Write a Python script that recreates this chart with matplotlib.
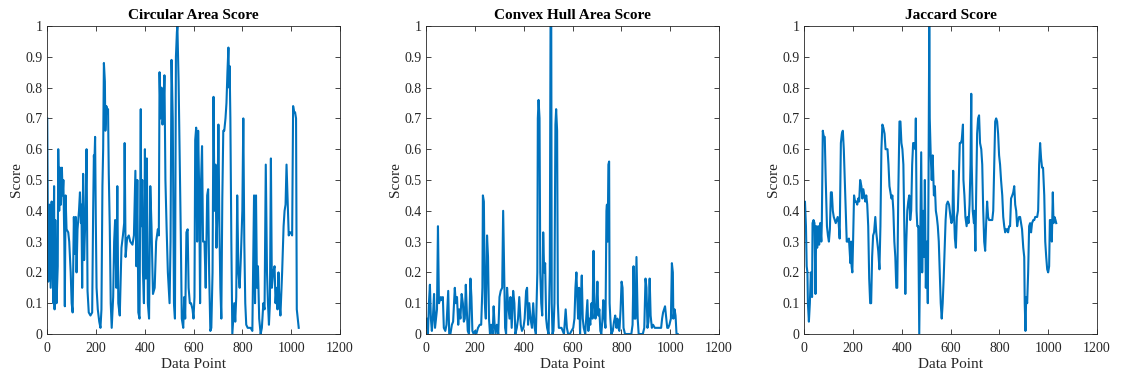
import matplotlib
matplotlib.use("Agg")
import matplotlib.pyplot as plt

# Circular area score
circ_x = [1, 5, 10, 15, 19, 23, 26, 29, 31, 34, 39, 44, 46, 50, 53, 57, 61, 64, 67, 71, 73, 76, 80, 87, 91,
          97, 101, 105, 110, 114, 118, 121, 125, 131, 135, 139, 141, 144, 148, 152, 158, 162, 166, 171, 178,
          185, 189, 192, 194, 197, 200, 203, 208, 214, 219, 223, 227, 230, 233, 237, 239, 243, 248, 250, 253,
          257, 261, 265, 271, 275, 279, 284, 288, 292, 298, 305, 311, 316, 318, 322, 328, 335, 341, 350, 356,
          362, 366, 370, 374, 379, 384, 386, 390, 393, 397, 401, 405, 409, 413, 418, 423, 428, 434, 441, 447,
          454, 458, 461, 465, 469, 473, 477, 481, 485, 490, 495, 502, 506, 510, 515, 520, 524, 528, 532, 534,
          539, 548, 552, 558, 562, 566, 571, 576, 580, 585, 590, 596, 600, 604, 607, 611, 615, 619, 623, 627,
          631, 635, 639, 645, 650, 656, 660, 664, 669, 673, 678, 682, 686, 690, 694, 698, 702, 706, 710, 714,
          718, 722, 726, 731, 735, 739, 743, 746, 748, 751, 755, 759, 763, 767, 771, 775, 779, 784, 789, 794,
          800, 804, 808, 812, 816, 822, 827, 834, 841, 848, 852, 856, 860, 864, 869, 875, 880, 886, 891, 896,
          901, 905, 909, 913, 917, 921, 926, 932, 936, 940, 944, 948, 952, 956, 963, 969, 973, 977, 981, 985,
          990, 994, 998, 1004, 1008, 1012, 1016, 1020, 1023, 1027, 1031]
circ_y = [0.70, 0.17, 0.42, 0.15, 0.43, 0.22, 0.10, 0.48, 0.08, 0.37, 0.10, 0.22, 0.60, 0.40, 0.54, 0.42,
          0.54, 0.45, 0.50, 0.30, 0.09, 0.45, 0.34, 0.33, 0.30, 0.20, 0.10, 0.07, 0.38, 0.26, 0.38, 0.20,
          0.34, 0.40, 0.46, 0.36, 0.42, 0.15, 0.52, 0.24, 0.40, 0.60, 0.14, 0.07, 0.06, 0.07, 0.40, 0.58,
          0.55, 0.64, 0.36, 0.15, 0.08, 0.04, 0.02, 0.08, 0.48, 0.60, 0.88, 0.82, 0.66, 0.74, 0.72, 0.73,
          0.52, 0.35, 0.10, 0.02, 0.12, 0.30, 0.37, 0.15, 0.48, 0.10, 0.06, 0.28, 0.32, 0.36, 0.62, 0.25,
          0.31, 0.32, 0.30, 0.29, 0.32, 0.53, 0.22, 0.50, 0.07, 0.05, 0.73, 0.35, 0.50, 0.20, 0.10, 0.60,
          0.18, 0.57, 0.10, 0.05, 0.48, 0.35, 0.13, 0.15, 0.30, 0.34, 0.32, 0.85, 0.70, 0.80, 0.68, 0.72,
          0.84, 0.50, 0.34, 0.20, 0.10, 0.30, 0.89, 0.70, 0.10, 0.05, 0.90, 0.98, 1.00, 0.82, 0.32, 0.05,
          0.02, 0.12, 0.05, 0.33, 0.34, 0.15, 0.10, 0.10, 0.08, 0.05, 0.12, 0.63, 0.67, 0.30, 0.66, 0.48,
          0.10, 0.50, 0.61, 0.30, 0.30, 0.15, 0.45, 0.47, 0.20, 0.01, 0.02, 0.20, 0.77, 0.40, 0.55, 0.28,
          0.40, 0.68, 0.35, 0.15, 0.05, 0.44, 0.66, 0.66, 0.70, 0.75, 0.85, 0.93, 0.80, 0.87, 0.70, 0.30,
          0.00, 0.05, 0.10, 0.04, 0.12, 0.45, 0.20, 0.15, 0.25, 0.40, 0.70, 0.30, 0.10, 0.03, 0.02, 0.02,
          0.02, 0.01, 0.45, 0.10, 0.45, 0.15, 0.22, 0.05, 0.00, 0.02, 0.10, 0.08, 0.55, 0.20, 0.10, 0.03,
          0.10, 0.57, 0.15, 0.20, 0.22, 0.10, 0.15, 0.08, 0.20, 0.10, 0.06, 0.20, 0.35, 0.40, 0.42, 0.55,
          0.45, 0.32, 0.33, 0.33, 0.32, 0.74, 0.72, 0.72, 0.70, 0.08, 0.05, 0.02]

# Convex hull area score
hull_x = [0, 4, 8, 12, 16, 20, 24, 28, 33, 37, 41, 45, 49, 53, 57, 61, 65, 69, 73, 79, 84, 91, 95, 100, 106,
          111, 118, 122, 127, 132, 136, 141, 146, 151, 155, 159, 163, 167, 171, 176, 182, 186, 190, 195, 201,
          206, 213, 220, 226, 231, 233, 237, 241, 245, 250, 254, 258, 262, 267, 273, 277, 281, 285, 290, 296,
          301, 306, 312, 316, 320, 324, 328, 332, 336, 342, 346, 351, 357, 362, 366, 372, 377, 382, 388, 393,
          399, 404, 410, 414, 418, 423, 428, 434, 439, 445, 450, 456, 458, 461, 465, 468, 472, 476, 480, 484,
          488, 492, 496, 502, 507, 510, 513, 515, 518, 522, 526, 530, 533, 537, 540, 544, 549, 555, 560, 565,
          572, 577, 582, 589, 596, 603, 608, 612, 616, 619, 623, 627, 631, 635, 638, 642, 646, 652, 657, 661,
          665, 669, 673, 678, 682, 686, 690, 694, 698, 702, 706, 710, 714, 718, 722, 726, 731, 735, 739, 741,
          744, 747, 750, 752, 755, 759, 765, 770, 775, 780, 784, 788, 792, 797, 801, 805, 809, 815, 820, 827,
          834, 841, 846, 850, 854, 858, 862, 867, 871, 875, 882, 888, 894, 899, 903, 907, 911, 916, 920, 925,
          930, 937, 945, 954, 959, 963, 967, 971, 975, 979, 984, 988, 992, 997, 1003, 1007, 1011, 1013, 1018,
          1022, 1026, 1031]
hull_y = [0.02, 0.05, 0.00, 0.10, 0.16, 0.05, 0.01, 0.05, 0.13, 0.02, 0.05, 0.08, 0.35, 0.10, 0.11, 0.12,
          0.11, 0.12, 0.02, 0.01, 0.03, 0.14, 0.00, 0.00, 0.03, 0.04, 0.15, 0.10, 0.12, 0.03, 0.08, 0.05,
          0.13, 0.10, 0.04, 0.05, 0.16, 0.08, 0.01, 0.00, 0.18, 0.12, 0.01, 0.00, 0.01, 0.00, 0.02, 0.03,
          0.03, 0.15, 0.45, 0.43, 0.10, 0.05, 0.32, 0.25, 0.05, 0.00, 0.03, 0.00, 0.09, 0.03, 0.00, 0.03,
          0.00, 0.12, 0.14, 0.15, 0.40, 0.20, 0.02, 0.00, 0.15, 0.10, 0.05, 0.12, 0.02, 0.14, 0.10, 0.00,
          0.02, 0.05, 0.12, 0.03, 0.01, 0.02, 0.05, 0.14, 0.15, 0.03, 0.10, 0.05, 0.02, 0.10, 0.02, 0.00,
          0.20, 0.70, 0.76, 0.70, 0.20, 0.10, 0.06, 0.33, 0.20, 0.23, 0.05, 0.02, 0.00, 0.20, 1.00, 1.00,
          0.10, 0.00, 0.01, 0.10, 0.68, 0.73, 0.66, 0.10, 0.02, 0.02, 0.02, 0.01, 0.00, 0.08, 0.02, 0.00,
          0.00, 0.01, 0.02, 0.05, 0.15, 0.20, 0.13, 0.05, 0.15, 0.00, 0.13, 0.19, 0.05, 0.02, 0.00, 0.06,
          0.11, 0.01, 0.05, 0.03, 0.10, 0.05, 0.27, 0.10, 0.05, 0.08, 0.17, 0.06, 0.08, 0.01, 0.00, 0.04,
          0.11, 0.05, 0.02, 0.40, 0.42, 0.30, 0.55, 0.56, 0.10, 0.05, 0.00, 0.01, 0.04, 0.06, 0.02, 0.05,
          0.02, 0.01, 0.08, 0.17, 0.15, 0.02, 0.00, 0.00, 0.00, 0.00, 0.00, 0.03, 0.22, 0.05, 0.05, 0.25,
          0.05, 0.00, 0.00, 0.00, 0.00, 0.02, 0.18, 0.15, 0.02, 0.04, 0.18, 0.06, 0.02, 0.03, 0.02, 0.02,
          0.02, 0.02, 0.02, 0.05, 0.07, 0.08, 0.09, 0.05, 0.02, 0.02, 0.03, 0.05, 0.23, 0.20, 0.05, 0.08,
          0.06, 0.00, 0.00]

# Jaccard score
jac_x = [0, 4, 8, 11, 14, 16, 20, 24, 28, 33, 35, 39, 43, 47, 50, 54, 58, 62, 66, 71, 73, 77, 81, 85, 89,
         94, 98, 102, 106, 110, 114, 118, 122, 126, 130, 134, 138, 142, 146, 151, 155, 159, 163, 167, 171,
         175, 179, 184, 190, 193, 195, 198, 201, 205, 209, 214, 218, 222, 226, 230, 235, 239, 243, 247, 251,
         255, 259, 263, 267, 271, 275, 279, 283, 287, 292, 296, 300, 304, 309, 313, 317, 321, 325, 330, 334,
         338, 342, 346, 350, 354, 358, 362, 366, 370, 374, 378, 382, 386, 391, 395, 399, 403, 407, 411, 415,
         419, 423, 427, 431, 435, 439, 443, 447, 452, 456, 458, 461, 464, 468, 472, 476, 480, 484, 488, 492,
         495, 499, 503, 507, 510, 513, 515, 519, 523, 527, 532, 536, 540, 544, 548, 552, 556, 560, 564, 568,
         572, 576, 580, 584, 589, 594, 600, 604, 608, 611, 614, 618, 622, 626, 630, 634, 638, 642, 646, 651,
         653, 657, 661, 666, 670, 674, 678, 682, 685, 687, 691, 696, 698, 702, 705, 709, 713, 717, 721, 726,
         730, 734, 738, 742, 746, 750, 754, 758, 762, 767, 771, 775, 779, 783, 787, 791, 795, 799, 803, 807,
         812, 816, 820, 824, 828, 832, 836, 840, 844, 848, 853, 857, 861, 865, 869, 873, 877, 881, 885, 889,
         893, 898, 902, 904, 907, 910, 914, 918, 922, 926, 930, 934, 939, 943, 947, 951, 955, 959, 963, 967,
         971, 975, 979, 984, 988, 992, 996, 1000, 1004, 1007, 1011, 1015, 1019, 1022, 1026, 1030, 1033]
jac_y = [0.42, 0.43, 0.35, 0.22, 0.20, 0.10, 0.04, 0.10, 0.20, 0.12, 0.36, 0.37, 0.36, 0.13, 0.35, 0.28,
         0.35, 0.29, 0.36, 0.30, 0.36, 0.66, 0.64, 0.64, 0.50, 0.35, 0.32, 0.30, 0.34, 0.46, 0.46, 0.40,
         0.38, 0.37, 0.36, 0.37, 0.38, 0.36, 0.31, 0.62, 0.65, 0.66, 0.60, 0.50, 0.40, 0.30, 0.30, 0.31,
         0.23, 0.30, 0.22, 0.20, 0.30, 0.45, 0.43, 0.43, 0.42, 0.44, 0.43, 0.50, 0.48, 0.44, 0.47, 0.45,
         0.43, 0.45, 0.42, 0.35, 0.18, 0.10, 0.10, 0.25, 0.32, 0.33, 0.38, 0.33, 0.30, 0.27, 0.21, 0.35,
         0.60, 0.68, 0.67, 0.65, 0.60, 0.60, 0.60, 0.55, 0.48, 0.46, 0.44, 0.45, 0.40, 0.30, 0.25, 0.15,
         0.15, 0.45, 0.69, 0.69, 0.62, 0.60, 0.55, 0.35, 0.13, 0.30, 0.40, 0.43, 0.45, 0.37, 0.40, 0.55,
         0.62, 0.62, 0.60, 0.70, 0.40, 0.35, 0.35, 0.00, 0.30, 0.59, 0.20, 0.40, 0.25, 0.50, 0.15, 0.30,
         0.10, 0.50, 1.00, 0.70, 0.58, 0.50, 0.58, 0.45, 0.48, 0.40, 0.38, 0.35, 0.30, 0.20, 0.10, 0.05,
         0.10, 0.18, 0.28, 0.37, 0.42, 0.43, 0.42, 0.38, 0.36, 0.37, 0.53, 0.40, 0.31, 0.28, 0.38, 0.40,
         0.50, 0.62, 0.62, 0.63, 0.68, 0.50, 0.45, 0.38, 0.35, 0.38, 0.36, 0.42, 0.55, 0.78, 0.55, 0.40,
         0.36, 0.40, 0.27, 0.45, 0.65, 0.70, 0.71, 0.62, 0.60, 0.55, 0.40, 0.30, 0.27, 0.36, 0.43, 0.38,
         0.37, 0.37, 0.37, 0.37, 0.40, 0.55, 0.69, 0.70, 0.69, 0.65, 0.58, 0.55, 0.50, 0.45, 0.38, 0.35,
         0.33, 0.34, 0.34, 0.33, 0.35, 0.35, 0.44, 0.45, 0.46, 0.48, 0.42, 0.40, 0.35, 0.37, 0.38, 0.38,
         0.36, 0.34, 0.28, 0.25, 0.10, 0.01, 0.12, 0.10, 0.20, 0.35, 0.36, 0.33, 0.36, 0.37, 0.37, 0.38,
         0.38, 0.38, 0.40, 0.55, 0.62, 0.57, 0.54, 0.54, 0.45, 0.30, 0.25, 0.21, 0.20, 0.22, 0.37, 0.37,
         0.30, 0.46, 0.36, 0.38, 0.37, 0.36]

titles = ["Circular Area Score", "Convex Hull Area Score", "Jaccard Score"]
series = [(circ_x, circ_y), (hull_x, hull_y), (jac_x, jac_y)]
x_ticks = [0, 200, 400, 600, 800, 1000, 1200]
y_ticks = [0, 0.1, 0.2, 0.3, 0.4, 0.5, 0.6, 0.7, 0.8, 0.9, 1]
y_tick_labels = ["0", "0.1", "0.2", "0.3", "0.4", "0.5", "0.6", "0.7", "0.8", "0.9", "1"]

line_color = "#0072BD"
axis_color = "#262626"
serif = ["Liberation Serif", "DejaVu Serif"]

fig = plt.figure(figsize=(11.25, 3.77), dpi=100)
lefts = [47 / 1125, 426 / 1125, 804 / 1125]
width = 293 / 1125
bottom = 43 / 377
height = 308 / 377

for left, title, (xs, ys) in zip(lefts, titles, series):
    ax = fig.add_axes([left, bottom, width, height])
    ax.plot(xs, ys, color=line_color, linewidth=1.5, solid_joinstyle="round")
    ax.set_xlim(0, 1200)
    ax.set_ylim(0, 1)
    ax.set_xticks(x_ticks)
    ax.set_xticklabels([str(t) for t in x_ticks], fontfamily=serif, fontsize=10, color=axis_color)
    ax.set_yticks(y_ticks)
    ax.set_yticklabels(y_tick_labels, fontfamily=serif, fontsize=10, color=axis_color)
    ax.tick_params(direction="in", length=3.5, width=0.6, top=True, right=True,
                   colors=axis_color)
    ax.tick_params(axis="x", pad=6)
    ax.tick_params(axis="y", pad=3)
    for sp in ax.spines.values():
        sp.set_color(axis_color)
        sp.set_linewidth(0.6)
    ax.set_title(title, fontfamily=serif, fontsize=11, fontweight="bold", color="black", pad=5)
    ax.set_xlabel("Data Point", fontfamily=serif, fontsize=11, color=axis_color, labelpad=2)
    ax.set_ylabel("Score", fontfamily=serif, fontsize=11, color=axis_color, labelpad=2)

fig.savefig("out.png", dpi=100)
